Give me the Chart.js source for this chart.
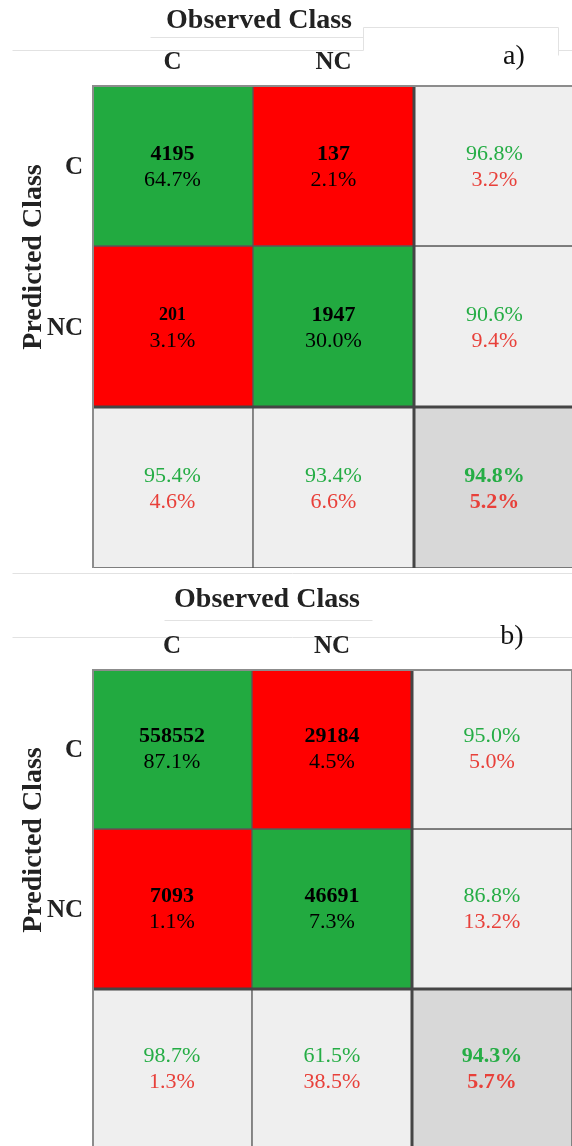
<!DOCTYPE html>
<html>
<head>
<meta charset="utf-8">
<script src="https://cdn.jsdelivr.net/npm/chart.js@4.4.1/dist/chart.umd.min.js"></script>
<style>
  html, body { margin: 0; padding: 0; background: #ffffff; }
  #page { position: relative; width: 572px; height: 1146px; overflow: hidden; background: #ffffff; }
  canvas { position: absolute; left: 0; }
  #cmA { top: 0; }
  #cmB { top: 578px; }
</style>
</head>
<body>
<div id="page">
  <canvas id="cmA" width="590" height="578"></canvas>
  <canvas id="cmB" width="590" height="600"></canvas>
</div>
<script>
// Class names (columns = observed, rows = predicted)
const classes = ['C', 'NC'];

// a) confusion matrix
const countsA = [[4195, 137], [201, 1947]];
const sharesA = [[64.7, 2.1], [3.1, 30.0]];
const rowOkA = [96.8, 90.6];
const rowErrA = [3.2, 9.4];
const colOkA = [95.4, 93.4];
const colErrA = [4.6, 6.6];
const totalOkA = 94.8;
const totalErrA = 5.2;

// b) confusion matrix
const countsB = [[558552, 29184], [7093, 46691]];
const sharesB = [[87.1, 4.5], [1.1, 7.3]];
const rowOkB = [95.0, 86.8];
const rowErrB = [5.0, 13.2];
const colOkB = [98.7, 61.5];
const colErrB = [1.3, 38.5];
const totalOkB = 94.3;
const totalErrB = 5.7;

const SERIF = '"Liberation Serif", "Times New Roman", serif';
const GREEN = '#22aa40';
const RED = '#ff0000';
const MARGIN_BG = '#efefef';
const CORNER_BG = '#d8d8d8';
const OK_TEXT = '#25ad45';
const ERR_TEXT = '#e8403a';

function pct(v) { return v.toFixed(1) + '%'; }

function buildMatrix(canvasId, m) {
  const n = classes.length;
  const labels = classes.concat(['']);
  // one stacked segment per cell, rows stacked top to bottom
  const datasets = [];
  for (let r = 0; r <= n; r++) {
    const colors = [];
    for (let c = 0; c <= n; c++) {
      if (r < n && c < n) colors.push(r === c ? GREEN : RED);
      else if (r === n && c === n) colors.push(CORNER_BG);
      else colors.push(MARGIN_BG);
    }
    datasets.push({
      label: r < n ? classes[r] : 'total',
      data: labels.map(() => 1),
      backgroundColor: colors,
      borderColor: '#585858',
      borderWidth: 1,
      borderSkipped: false,
      barPercentage: 1,
      categoryPercentage: 1
    });
  }

  const textPlugin = {
    id: 'cmText',
    afterDatasetsDraw(chart) {
      const ctx = chart.ctx;
      const xs = chart.scales.x, ys = chart.scales.y;
      const area = chart.chartArea;
      const cx = i => xs.getPixelForValue(i);
      const cy = i => (ys.getPixelForValue(i) + ys.getPixelForValue(i + 1)) / 2;

      ctx.save();
      // heavier separators around the summary row/column
      const xSep = (xs.getPixelForValue(n - 1) + xs.getPixelForValue(n)) / 2;
      const ySep = ys.getPixelForValue(n);
      ctx.strokeStyle = '#454545';
      ctx.lineWidth = 3;
      ctx.beginPath();
      ctx.moveTo(xSep, area.top); ctx.lineTo(xSep, area.bottom);
      ctx.moveTo(area.left, ySep); ctx.lineTo(area.right, ySep);
      ctx.stroke();
      // outer frame on the left/top
      ctx.strokeStyle = '#8c8c8c';
      ctx.lineWidth = 2;
      ctx.beginPath();
      ctx.moveTo(area.left + 1, area.bottom); ctx.lineTo(area.left + 1, area.top + 1); ctx.lineTo(area.right, area.top + 1);
      ctx.stroke();

      ctx.textAlign = 'center';
      ctx.textBaseline = 'middle';
      const up = m.lineUp, down = m.lineDown;
      for (let r = 0; r < n; r++) {
        for (let c = 0; c < n; c++) {
          ctx.fillStyle = '#000000';
          ctx.font = 'bold ' + m.countSize[r][c] + 'px ' + SERIF;
          ctx.fillText(String(m.counts[r][c]), cx(c), cy(r) - up);
          ctx.font = '22px ' + SERIF;
          ctx.fillText(pct(m.shares[r][c]), cx(c), cy(r) + down);
        }
        // predicted-row summary
        ctx.font = '22px ' + SERIF;
        ctx.fillStyle = OK_TEXT;
        ctx.fillText(pct(m.rowOk[r]), cx(n), cy(r) - up);
        ctx.fillStyle = ERR_TEXT;
        ctx.fillText(pct(m.rowErr[r]), cx(n), cy(r) + down);
      }
      for (let c = 0; c < n; c++) {
        ctx.font = '22px ' + SERIF;
        ctx.fillStyle = OK_TEXT;
        ctx.fillText(pct(m.colOk[c]), cx(c), cy(n) - up);
        ctx.fillStyle = ERR_TEXT;
        ctx.fillText(pct(m.colErr[c]), cx(c), cy(n) + down);
      }
      ctx.font = 'bold 22px ' + SERIF;
      ctx.fillStyle = OK_TEXT;
      ctx.fillText(pct(m.totalOk), cx(n), cy(n) - up);
      ctx.fillStyle = ERR_TEXT;
      ctx.fillText(pct(m.totalErr), cx(n), cy(n) + down);

      // faint page rules around the headings
      ctx.strokeStyle = '#e2e2e2';
      ctx.lineWidth = 1;
      ctx.beginPath();
      m.rules.forEach(seg => {
        ctx.moveTo(seg[0] + 0.5, seg[1] + 0.5);
        ctx.lineTo(seg[2] + 0.5, seg[3] + 0.5);
      });
      ctx.stroke();

      // observed-class column headers
      ctx.fillStyle = '#222222';
      ctx.font = 'bold 25px ' + SERIF;
      for (let c = 0; c < n; c++) {
        ctx.fillText(classes[c], cx(c), area.top - 22);
      }
      // predicted-class row labels
      ctx.textAlign = 'right';
      for (let r = 0; r < n; r++) {
        ctx.fillText(classes[r], area.left - 9, cy(r) + 2);
      }
      // axis titles
      ctx.textAlign = 'center';
      ctx.font = 'bold 28px ' + SERIF;
      ctx.fillText('Observed Class', m.titleX, m.titleY);
      ctx.save();
      ctx.translate(34, (ys.getPixelForValue(0) + ys.getPixelForValue(n)) / 2 + 11);
      ctx.rotate(-Math.PI / 2);
      ctx.fillText('Predicted Class', 0, 0);
      ctx.restore();
      // panel tag
      ctx.font = '28px ' + SERIF;
      ctx.fillStyle = '#111111';
      ctx.fillText(m.tag, m.tagX, m.tagY);
      ctx.restore();
    }
  };

  return new Chart(document.getElementById(canvasId), {
    type: 'bar',
    data: { labels: labels, datasets: datasets },
    options: {
      responsive: false,
      animation: false,
      devicePixelRatio: 1,
      layout: { padding: m.padding },
      plugins: { legend: { display: false }, tooltip: { enabled: false } },
      scales: {
        x: { stacked: true, display: false, offset: true },
        y: { stacked: true, display: false, min: 0, max: n + 1, reverse: true }
      }
    },
    plugins: [textPlugin]
  });
}

buildMatrix('cmA', {
  counts: countsA, shares: sharesA,
  rowOk: rowOkA, rowErr: rowErrA, colOk: colOkA, colErr: colErrA,
  totalOk: totalOkA, totalErr: totalErrA,
  countSize: [[22, 22], [18, 22]],
  lineUp: 11, lineDown: 15,
  padding: { left: 92, top: 85, right: 15, bottom: 10 },
  titleX: 259, titleY: 21,
  tag: 'a)', tagX: 514, tagY: 57,
  rules: [
    [12, 50, 363, 50], [558, 50, 572, 50],
    [150, 37, 363, 37],
    [363, 27, 558, 27], [363, 27, 363, 50], [558, 27, 558, 55],
    [12, 573, 572, 573]
  ]
});

buildMatrix('cmB', {
  counts: countsB, shares: sharesB,
  rowOk: rowOkB, rowErr: rowErrB, colOk: colOkB, colErr: colErrB,
  totalOk: totalOkB, totalErr: totalErrB,
  countSize: [[22, 22], [22, 22]],
  lineUp: 13, lineDown: 13,
  padding: { left: 92, top: 91, right: 18, bottom: 29 },
  titleX: 267, titleY: 22,
  tag: 'b)', tagX: 512, tagY: 59,
  rules: [
    [164, 42, 372, 42],
    [12, 59, 572, 59]
  ]
});
</script>
</body>
</html>
